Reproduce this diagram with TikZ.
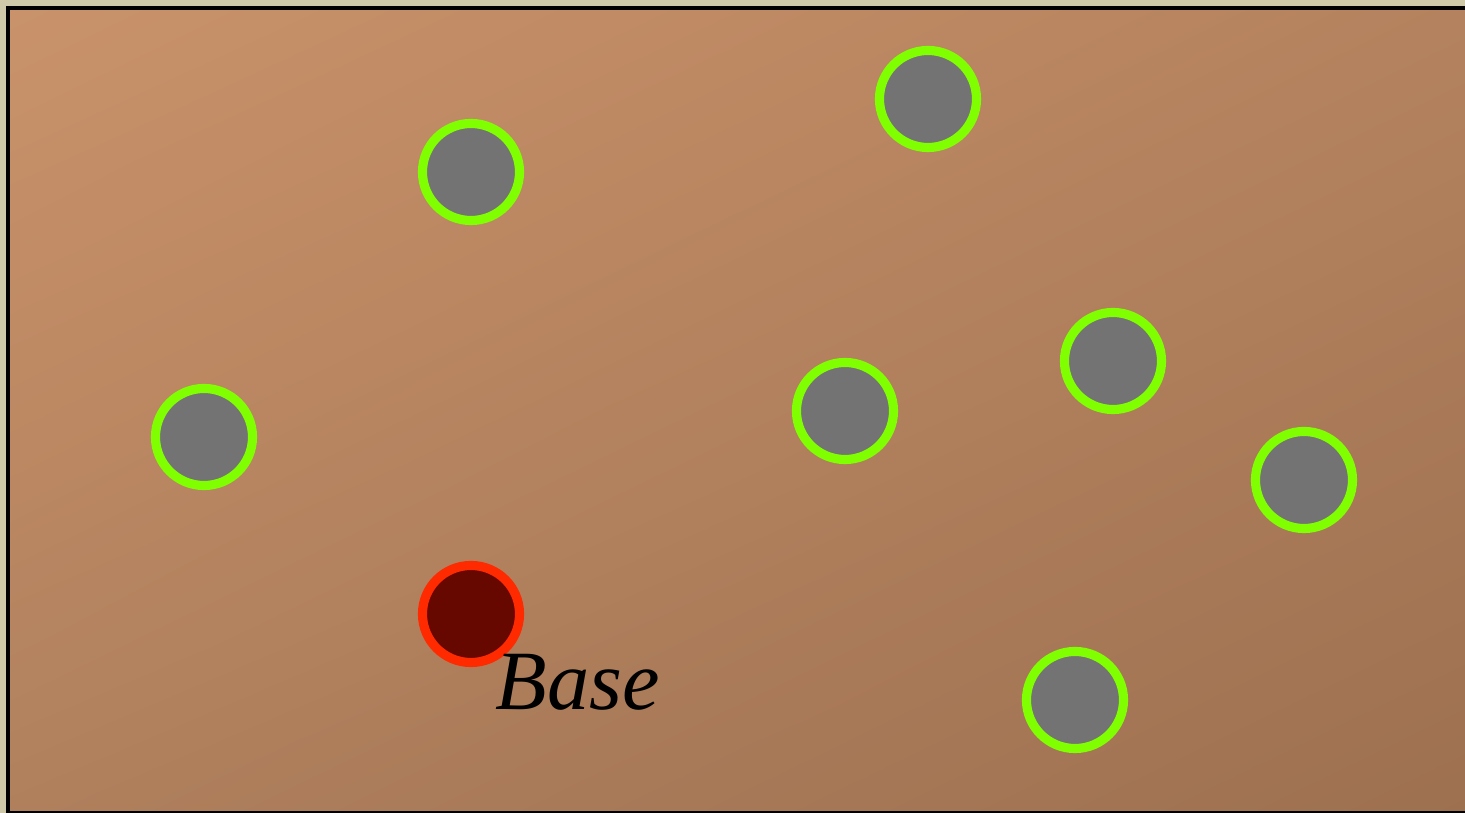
\documentclass[tikz,border=0pt]{standalone}
\usepackage{fontspec}
\setmainfont{Liberation Serif}
\usetikzlibrary{positioning,shadings}

\definecolor{paper}{RGB}{207,201,170}
\definecolor{groundUL}{RGB}{201,146,106}
\definecolor{groundUR}{RGB}{180,130,94}
\definecolor{groundLL}{RGB}{176,128,93}
\definecolor{groundLR}{RGB}{157,112,80}
\definecolor{spotgray}{RGB}{115,115,115}
\definecolor{spotgreen}{RGB}{128,255,0}
\definecolor{homered}{RGB}{255,42,0}
\definecolor{homefill}{RGB}{102,8,0}

\tikzset{
  spot/.style={circle, draw=spotgreen, fill=spotgray, line width=2.6pt, minimum size=0.97cm, inner sep=0pt},
  home/.style={circle, draw=homered, fill=homefill, line width=2.6pt, minimum size=0.97cm, inner sep=0pt}
}

\begin{document}
\begin{tikzpicture}[x=0.01cm, y=-0.01cm]
            \useasboundingbox (0,0) rectangle (1465,813);
            % 紙
            \path[fill=paper] (0,0) rectangle (1465,813);

            % 地面
            \shade[upper left=groundUL, upper right=groundUR,
                   lower left=groundLL, lower right=groundLR]
                (8,8) rectangle (1480,813);
            \path[draw, line width=1.15pt] (8,8) rectangle (1480,813);

            % 点
            \node[spot] (s1) at (471,172) {};
            \node[spot] (s2) at (928,99) {};
            \node[spot] (s3) at (204,437) {};
            \node[spot] (s4) at (845,411) {};
            \node[spot] (s5) at (1113,361) {};
            \node[spot] (s6) at (1304,480) {};
            \node[spot] (s7) at (1075,700) {};

            % 基地
            \node[home] (b) at (471,614) {};
            \node[anchor=base west, inner sep=0pt, font=\fontsize{24}{28}\selectfont\itshape] (bl) at (495,710) {Base};
        \end{tikzpicture}
\end{document}
